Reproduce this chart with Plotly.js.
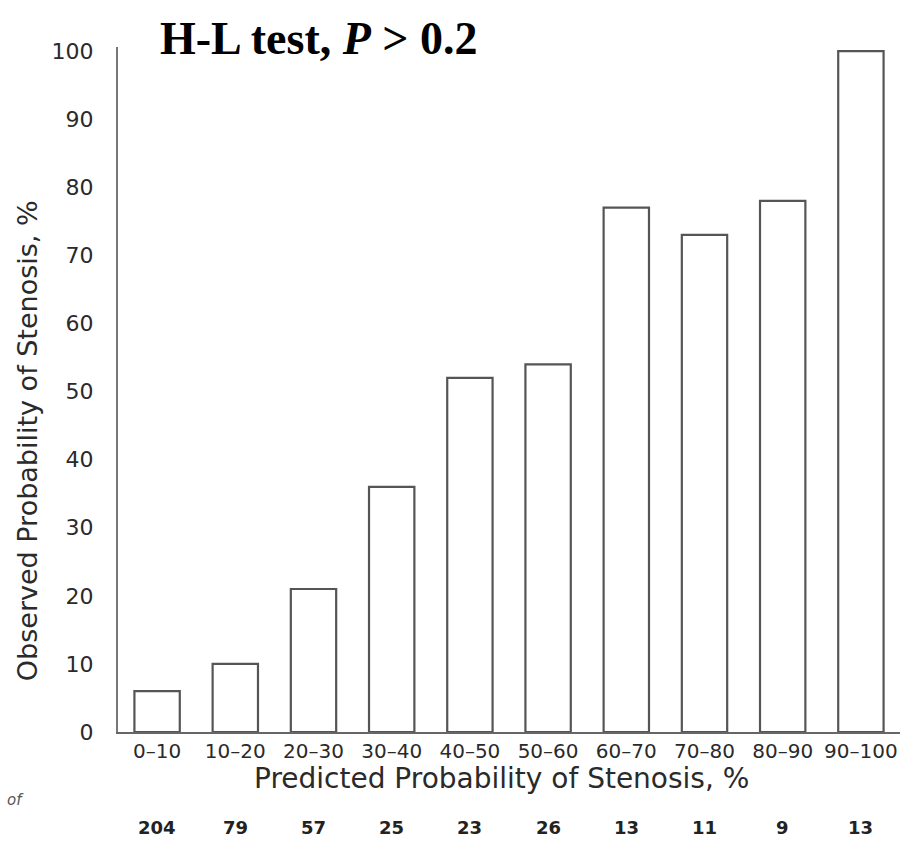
<!DOCTYPE html>
<html>
<head>
<meta charset="utf-8">
<script src="https://cdn.plot.ly/plotly-3.0.1.min.js"></script>
<style>
  html, body { margin: 0; padding: 0; background: #ffffff; }
  #chart { width: 902px; height: 852px; }
</style>
</head>
<body>
<div id="chart"></div>
<script>
// Predicted-probability deciles (x categories)
const categories = ["0–10", "10–20", "20–30", "30–40", "40–50", "50–60", "60–70", "70–80", "80–90", "90–100"];
// Observed probability of stenosis per decile, %
const observed = [6, 10, 21, 36, 52, 54, 77, 73, 78, 100];
// Number of patients in each decile
const counts = [204, 79, 57, 25, 23, 26, 13, 11, 9, 13];
// Y-axis ticks
const yTicks = [0, 10, 20, 30, 40, 50, 60, 70, 80, 90, 100];

const sans = "DejaVu Sans, Arial, sans-serif";

const trace = {
  type: "bar",
  x: categories,
  y: observed,
  marker: { color: "#ffffff", line: { color: "#555555", width: 2.2 } },
  hoverinfo: "x+y"
};

const annotations = [
  {
    text: "Observed Probability of Stenosis, %",
    xref: "paper", yref: "paper",
    x: -0.1164, y: 0.426,
    xanchor: "center", yanchor: "middle",
    textangle: -90, showarrow: false,
    font: { family: sans, size: 27, color: "#2a2a2a" }
  },
  {
    text: "Predicted Probability of Stenosis, %",
    xref: "paper", yref: "paper",
    x: 0.49, y: -0.068,
    xanchor: "center", yanchor: "middle",
    showarrow: false,
    font: { family: sans, size: 28, color: "#2a2a2a" }
  },
  {
    text: "of",
    xref: "paper", yref: "paper",
    x: -0.1317, y: -0.0993,
    xanchor: "center", yanchor: "middle",
    showarrow: false,
    font: { family: sans, size: 15, color: "#555555", style: "italic" }
  }
];

counts.forEach(function (n, i) {
  annotations.push({
    text: String(n),
    xref: "x", yref: "paper",
    x: categories[i], y: -0.1387,
    xanchor: "center", yanchor: "middle",
    showarrow: false,
    font: { family: sans, size: 18, color: "#222222", weight: "bold" }
  });
});

const layout = {
  width: 902,
  height: 852,
  margin: { l: 118, r: 2, t: 47, b: 120, pad: 0 },
  paper_bgcolor: "#ffffff",
  plot_bgcolor: "#ffffff",
  showlegend: false,
  bargap: 0.42,
  title: {
    text: "<b>H-L test, <i>P</i> > 0.2</b>",
    xref: "container", yref: "container",
    x: 160 / 902, xanchor: "left",
    y: 1 - 38 / 852, yanchor: "middle",
    font: { family: "Liberation Serif, Times New Roman, serif", size: 46, color: "#000000" }
  },
  xaxis: {
    type: "category",
    range: [-0.5, 9.5],
    showline: true,
    linecolor: "#666666",
    linewidth: 2,
    showgrid: false,
    zeroline: false,
    ticks: "",
    tickfont: { family: sans, size: 20, color: "#2a2a2a" },
    fixedrange: true
  },
  yaxis: {
    range: [0, 100.6],
    tickvals: yTicks,
    ticktext: yTicks.map(String),
    showline: true,
    linecolor: "#777777",
    linewidth: 2,
    showgrid: false,
    zeroline: false,
    ticks: "",
    ticklabelstandoff: 18,
    tickfont: { family: sans, size: 22, color: "#2a2a2a" },
    fixedrange: true
  },
  annotations: annotations
};

Plotly.newPlot("chart", [trace], layout, { displayModeBar: false, staticPlot: true });
</script>
</body>
</html>
